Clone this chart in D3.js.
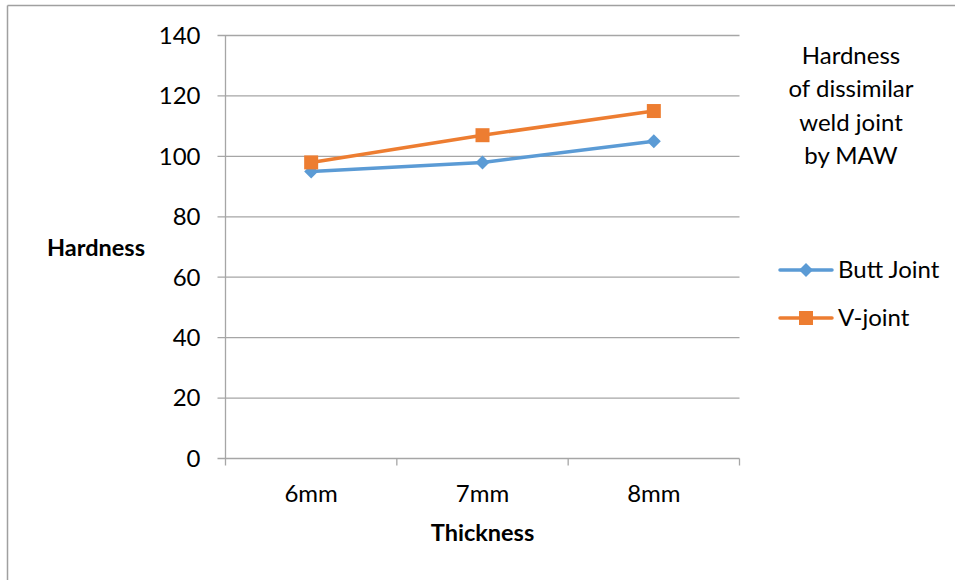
<!DOCTYPE html>
<html>
<head>
<meta charset="utf-8">
<script src="https://cdn.jsdelivr.net/npm/d3@7"></script>
<style>
  body { margin: 0; background: #fff; }
  svg { display: block; }
  text { font-family: Lato, "Open Sans", sans-serif; fill: #000; }
</style>
</head>
<body>
<svg id="chart" width="955" height="580"></svg>
<script>
const categories = ["6mm", "7mm", "8mm"];
const buttJoint = [95, 98, 105];
const vJoint = [98, 107, 115];
const yTicks = [0, 20, 40, 60, 80, 100, 120, 140];
const seriesNames = ["Butt Joint", "V-joint"];
const titleLines = ["Hardness", "of dissimilar", "weld joint", "by MAW"];

(function () {
const svg = d3.select("#chart");
const W = 955, H = 580;
const fs = "24px";

// outer border (top & left visible)
svg.append("line").attr("x1", 7.5).attr("y1", 5.5).attr("x2", W).attr("y2", 5.5)
  .attr("stroke", "#a0a0a0").attr("stroke-width", 1.5);
svg.append("line").attr("x1", 7.5).attr("y1", 5.5).attr("x2", 7.5).attr("y2", H)
  .attr("stroke", "#a0a0a0").attr("stroke-width", 1.5);

const pLeft = 225.5, pRight = 739.5, pTop = 35.5, pBottom = 458.5;

const x = d3.scaleBand().domain(categories).range([pLeft, pRight]).padding(0);
const y = d3.scaleLinear().domain([0, 140]).range([pBottom, pTop]);

const gridColor = "#a6a6a6";

// gridlines
svg.append("g").selectAll("line").data(yTicks).join("line")
  .attr("x1", pLeft - 8).attr("x2", pRight)
  .attr("y1", d => y(d)).attr("y2", d => y(d))
  .attr("stroke", gridColor).attr("stroke-width", 1.3);

// y axis line
svg.append("line").attr("x1", pLeft).attr("x2", pLeft).attr("y1", pTop).attr("y2", pBottom + 7)
  .attr("stroke", gridColor).attr("stroke-width", 1.3);

// x ticks
const xTickPos = categories.map(c => x(c)).concat([x(categories[categories.length - 1]) + x.bandwidth()]);
svg.append("g").selectAll("line").data(xTickPos.slice(1)).join("line")
  .attr("x1", d => d).attr("x2", d => d)
  .attr("y1", pBottom).attr("y2", pBottom + 7)
  .attr("stroke", gridColor).attr("stroke-width", 1.3);

// y tick labels
svg.append("g").selectAll("text").data(yTicks).join("text")
  .attr("x", pLeft - 25).attr("y", d => y(d))
  .attr("dy", "0.35em").attr("text-anchor", "end")
  .style("font-size", fs).text(d => d);

// x tick labels
svg.append("g").selectAll("text").data(categories).join("text")
  .attr("x", d => x(d) + x.bandwidth() / 2).attr("y", 502)
  .attr("text-anchor", "middle").style("font-size", fs).text(d => d);

// axis titles
svg.append("text").attr("x", 96).attr("y", 256).attr("text-anchor", "middle")
  .style("font-size", "23.5px").style("font-weight", "bold").text("Hardness");
svg.append("text").attr("x", x(categories[1]) + x.bandwidth() / 2).attr("y", 541)
  .attr("text-anchor", "middle").style("font-size", "23.5px").style("font-weight", "bold").text("Thickness");

// chart title (inside right)
svg.append("g").selectAll("text").data(titleLines).join("text")
  .attr("x", 851).attr("y", (d, i) => 64 + i * 33.3)
  .attr("text-anchor", "middle").style("font-size", fs).text(d => d);

const colors = ["#5b9bd5", "#ed7d31"];
const seriesData = [buttJoint, vJoint];
const line = d3.line().x((d, i) => x(categories[i]) + x.bandwidth() / 2).y(d => y(d));

function drawMarker(g, kind, cx, cy, color) {
  const s = 7;
  if (kind === 0) {
    g.append("path").attr("d", `M${cx},${cy - s}L${cx + s},${cy}L${cx},${cy + s}L${cx - s},${cy}Z`)
      .attr("fill", color);
  } else {
    g.append("rect").attr("x", cx - s).attr("y", cy - s).attr("width", 2 * s).attr("height", 2 * s)
      .attr("fill", color);
  }
}

seriesData.forEach((vals, si) => {
  const g = svg.append("g");
  g.append("path").datum(vals).attr("d", line)
    .attr("fill", "none").attr("stroke", colors[si]).attr("stroke-width", 3.5)
    .attr("stroke-linejoin", "round").attr("stroke-linecap", "round");
  vals.forEach((v, i) => drawMarker(g, si, x(categories[i]) + x.bandwidth() / 2, y(v), colors[si]));
});

// legend
const legendY = [270, 318];
seriesNames.forEach((name, si) => {
  const g = svg.append("g");
  g.append("line").attr("x1", 780).attr("x2", 832).attr("y1", legendY[si]).attr("y2", legendY[si])
    .attr("stroke", colors[si]).attr("stroke-width", 3.5).attr("stroke-linecap", "round");
  drawMarker(g, si, 806, legendY[si], colors[si]);
  g.append("text").attr("x", 838).attr("y", legendY[si]).attr("dy", "0.35em")
    .style("font-size", fs).text(name);
});
})();
</script>
</body>
</html>
